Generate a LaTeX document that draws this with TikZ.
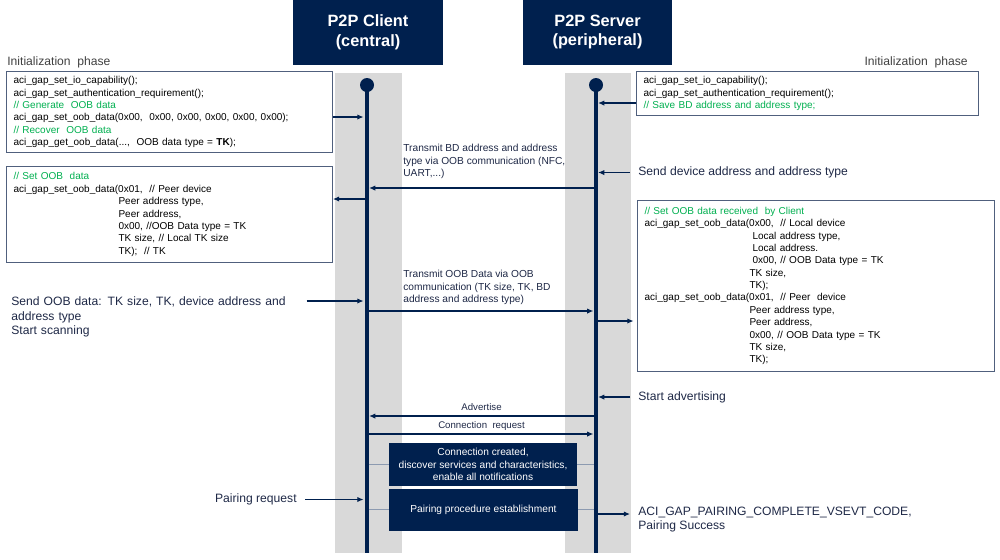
\documentclass[tikz,border=0pt]{standalone}
\usepackage{fontspec}
\setmainfont{Liberation Sans}
\usetikzlibrary{arrows.meta,positioning}

\definecolor{navy}{RGB}{0,32,78}
\definecolor{lane}{RGB}{217,217,217}
\definecolor{boxline}{RGB}{80,96,125}
\definecolor{cmt}{RGB}{0,176,80}
\definecolor{lbltxt}{RGB}{30,40,70}
\definecolor{phasetxt}{RGB}{64,64,64}
\definecolor{tieline}{RGB}{140,154,176}

\newcommand\hdrfont{\fontsize{9.3}{11.3}\selectfont\bfseries}
\newcommand\cdfont{\fontsize{5.7}{7.05}\selectfont}
\newcommand\lblfont{\fontsize{6.9}{8.2}\selectfont}
\newcommand\msgfont{\fontsize{5.8}{7.1}\selectfont}
\newcommand\smlfont{\fontsize{5.5}{6.6}\selectfont}

\begin{document}
\begin{tikzpicture}[x=0.02cm,y=-0.02cm,
    hdr/.style={fill=navy,text=white,font=\hdrfont,align=center,minimum height=1.3cm},
    codebox/.style={draw=boxline,line width=0.6pt,fill=white,align=left,anchor=north west,
        inner xsep=0.14cm,inner ysep=0pt,font=\cdfont},
    lbl/.style={font=\lblfont,text=lbltxt,align=left,inner xsep=0.16cm,inner ysep=0pt},
    msgtxt/.style={font=\msgfont,text=lbltxt,align=left,inner sep=0pt,anchor=north west},
    smltxt/.style={font=\smlfont,text=lbltxt,inner sep=0pt,text depth=0pt,above=3pt},
    darkbox/.style={fill=navy,text=white,font=\msgfont,align=center,inner sep=0pt},
    msg/.style={draw=navy,line width=0.6pt,-{Latex[length=3.5pt,width=3pt]}},
    tie/.style={draw=tieline,line width=0.9pt},
    life/.style={draw=navy,line width=2.3pt}]

    \useasboundingbox (0,0) rectangle (1000,559);

    % Lanes
    \fill[lane] (335,73) rectangle (402,553);
    \fill[lane] (565,73) rectangle (631,553);

    % Headers
    \node[hdr,minimum width=3cm] (cli) at (368,32.5) {P2P Client\\(central)};
    \node[hdr,minimum width=2.98cm] (srv) at (597.5,32) {P2P Server\\(peripheral)};

    % Lifelines
    \coordinate (cliTop) at (367,85); \coordinate (cliBot) at (367,553);
    \coordinate (srvTop) at (596,85); \coordinate (srvBot) at (596,553);

    % Arrow levels
    \coordinate (lvA) at (0,117); \coordinate (lvB) at (0,103);
    \coordinate (lvM1) at (0,188); \coordinate (lvSl) at (0,199);
    \coordinate (lvM2) at (0,311); \coordinate (lvSo) at (0,301);
    \coordinate (lvSr) at (0,321); \coordinate (lvAdv) at (0,416);
    \coordinate (lvCr) at (0,434); \coordinate (lvPd) at (0,514);

    % Dark boxes
    \node[darkbox,minimum width=3.76cm,minimum height=0.86cm] (connBox) at (483,464.5)
        {Connection created,\\discover services and characteristics,\\enable all notifications};
    \node[darkbox,minimum width=3.78cm,minimum height=0.84cm] (pairBox) at (483.5,509.5)
        {Pairing procedure establishment};
    \draw[tie] (cliTop |- connBox.west) -- (connBox.west);
    \draw[tie] (connBox.east) -- (srvTop |- connBox.east);
    \draw[tie] (cliTop |- pairBox.west) -- (pairBox.west);
    \draw[tie] (pairBox.east) -- (srvTop |- pairBox.east);

    \draw[life] (cliTop) -- (cliBot);
    \draw[life] (srvTop) -- (srvBot);
    \fill[navy] (cliTop) circle (0.14cm);
    \fill[navy] (srvTop) circle (0.14cm);

    % Initialization phase
    \node[lbl,inner xsep=0pt,anchor=west,text=phasetxt] (initLbl) at (7,62) {Initialization~ phase};
    \node[lbl,inner xsep=0pt,anchor=east,text=phasetxt] (initRbl) at (968,62) {Initialization~ phase};

    \node[codebox,text width=6.24cm,minimum height=1.62cm] (initL) at (6,71)
        {aci\_gap\_set\_io\_capability();\\
         aci\_gap\_set\_authentication\_requirement();\\
         \textcolor{cmt}{// Generate~ OOB data}\\
         aci\_gap\_set\_oob\_data(0x00,~ 0x00, 0x00, 0x00, 0x00, 0x00);\\
         \textcolor{cmt}{// Recover~ OOB data}\\
         aci\_gap\_get\_oob\_data(...,~ OOB data type = \textbf{TK});};
    \node[codebox,text width=6.56cm,minimum height=0.88cm] (initR) at (636,71)
        {aci\_gap\_set\_io\_capability();\\
         aci\_gap\_set\_authentication\_requirement();\\
         \textcolor{cmt}{// Save BD address and address type;}};
    \draw[msg,shorten >=2pt] (initL.east |- lvA) -- (cliTop |- lvA);
    \draw[msg,shorten >=1.2pt] (initR.west |- lvB) -- (srvTop |- lvB);

    % Address exchange
    \node[msgtxt] (m1Lbl) at (403,144)
        {Transmit BD address and address\\type via OOB communication (NFC,\\UART,...)};
    \draw[msg,shorten >=1.2pt,shorten <=1.2pt] (srvTop |- lvM1) -- (cliTop |- lvM1);
    \node[lbl,anchor=west] (sendAddr) at (630,172.5) {Send device address and address type};
    \draw[msg,shorten >=1.2pt] (sendAddr.west) -- (srvTop |- sendAddr.west);

    \node[codebox,text width=6.24cm,minimum height=1.92cm] (setL) at (6,166)
        {\textcolor{cmt}{// Set OOB~ data}\\
         aci\_gap\_set\_oob\_data(0x01,~ // Peer device\\
         \hspace*{2.1cm}Peer address type,\\
         \hspace*{2.1cm}Peer address,\\
         \hspace*{2.1cm}0x00, //OOB Data type = TK\\
         \hspace*{2.1cm}TK size, // Local TK size\\
         \hspace*{2.1cm}TK);~ // TK};
    \draw[msg,shorten <=1.2pt] (cliTop |- lvSl) -- (setL.east |- lvSl);

    % OOB data exchange
    \node[msgtxt] (m2Lbl) at (403,270)
        {Transmit OOB Data via OOB\\communication (TK size, TK, BD\\address and address type)};
    \draw[msg,shorten >=1.5pt,shorten <=1.2pt] (cliTop |- lvM2) -- (srvTop |- lvM2);
    \node[lbl,anchor=north west,text width=5.74cm] (sendOob) at (3,296.5)
        {Send OOB data: TK size, TK, device address and\\address type\\Start scanning};
    \draw[msg,shorten >=2pt] (sendOob.east |- lvSo) -- (cliTop |- lvSo);

    \node[codebox,text width=6.86cm,minimum height=3.42cm] (setR) at (637,200)
        {\textcolor{cmt}{// Set OOB data received~ by Client}\\
         aci\_gap\_set\_oob\_data(0x00,~ // Local device\\
         \hspace*{2.16cm}Local address type,\\
         \hspace*{2.16cm}Local address.\\
         \hspace*{2.16cm}0x00, // OOB Data type = TK\\
         \hspace*{2.1cm}TK size,\\
         \hspace*{2.1cm}TK);\\
         aci\_gap\_set\_oob\_data(0x01,~ // Peer~ device\\
         \hspace*{2.1cm}Peer address type,\\
         \hspace*{2.1cm}Peer address,\\
         \hspace*{2.1cm}0x00, // OOB Data type = TK\\
         \hspace*{2.1cm}TK size,\\
         \hspace*{2.1cm}TK);};
    \draw[msg,shorten <=1.2pt,shorten >=2pt] (srvTop |- lvSr) -- (setR.west |- lvSr);

    % Connection
    \node[lbl,anchor=west] (startAdv) at (630,397) {Start advertising};
    \draw[msg,shorten >=1.2pt] (startAdv.west) -- (srvTop |- startAdv.west);
    \draw[msg,shorten >=1.2pt,shorten <=1.2pt] (srvTop |- lvAdv) --
        node[smltxt] (advLbl) {Advertise} (cliTop |- lvAdv);
    \draw[msg,shorten >=1.5pt,shorten <=1.2pt] (cliTop |- lvCr) --
        node[smltxt] (crLbl) {Connection~ request} (srvTop |- lvCr);

    % Pairing
    \node[lbl,anchor=east] (pairReq) at (305,499.5) {Pairing request};
    \draw[msg,shorten >=2pt] (pairReq.east) -- (cliTop |- pairReq.east);
    \node[lbl,anchor=north west] (pairDone) at (630,506.5)
        {ACI\_GAP\_PAIRING\_COMPLETE\_VSEVT\_CODE,\\Pairing Success};
    \draw[msg,shorten <=1.2pt] (srvTop |- lvPd) -- (pairDone.west |- lvPd);
\end{tikzpicture}
\end{document}
